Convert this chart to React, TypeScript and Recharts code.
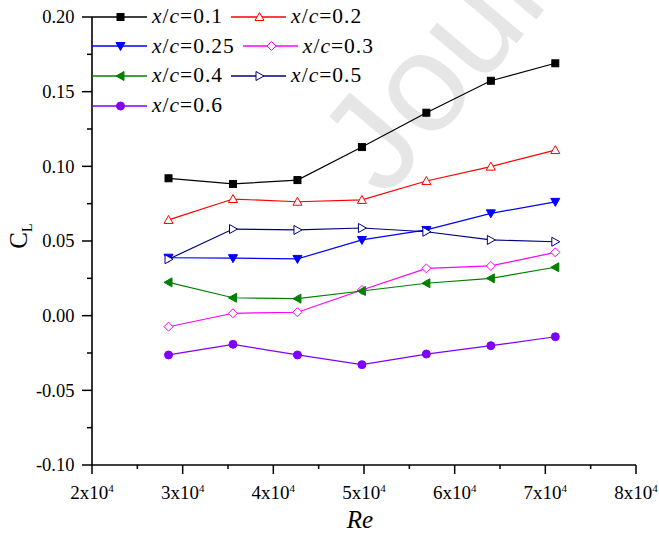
import React from "react"
import { LineChart, Line, XAxis, YAxis } from "recharts"

// Reynolds numbers (x positions)
const RE = [28440, 35550, 42660, 49770, 56880, 63990, 71100]

// lift coefficient per chordwise position
const CL_010 = [0.092, 0.0882, 0.0908, 0.1129, 0.1359, 0.1573, 0.169]
const CL_020 = [0.0641, 0.0781, 0.0763, 0.0775, 0.0902, 0.0998, 0.1109]
const CL_025 = [0.0388, 0.0385, 0.038, 0.0507, 0.0574, 0.0685, 0.0762]
const CL_030 = [-0.0074, 0.0016, 0.0023, 0.0172, 0.0317, 0.0333, 0.0424]
const CL_040 = [0.0223, 0.012, 0.0114, 0.0165, 0.0217, 0.025, 0.0324]
const CL_050 = [0.0378, 0.058, 0.0574, 0.0587, 0.0562, 0.0507, 0.0495]
const CL_060 = [-0.0263, -0.0192, -0.0263, -0.0328, -0.0257, -0.0201, -0.0141]

const X_MAJOR = [20000, 30000, 40000, 50000, 60000, 70000, 80000]
const X_MINOR = [25000, 35000, 45000, 55000, 65000, 75000]
const Y_MAJOR = [-0.1, -0.05, 0, 0.05, 0.1, 0.15, 0.2]
const Y_MINOR = [-0.075, -0.025, 0.025, 0.075, 0.125, 0.175]

type Shape = "square" | "up" | "down" | "left" | "right" | "diamond" | "circle"

interface SeriesDef {
  key: string
  label: string
  values: number[]
  color: string
  shape: Shape
  filled: boolean
}

const SERIES: SeriesDef[] = [
  { key: "s010", label: "0.1", values: CL_010, color: "#000000", shape: "square", filled: true },
  { key: "s020", label: "0.2", values: CL_020, color: "#ff0000", shape: "up", filled: false },
  { key: "s025", label: "0.25", values: CL_025, color: "#0000ff", shape: "down", filled: true },
  { key: "s030", label: "0.3", values: CL_030, color: "#ff00ff", shape: "diamond", filled: false },
  { key: "s040", label: "0.4", values: CL_040, color: "#008000", shape: "left", filled: true },
  { key: "s050", label: "0.5", values: CL_050, color: "#000080", shape: "right", filled: false },
  { key: "s060", label: "0.6", values: CL_060, color: "#8000ff", shape: "circle", filled: true },
]

const data = RE.map((re, i) => {
  const row: Record<string, number> = { re }
  SERIES.forEach((s) => {
    row[s.key] = s.values[i]
  })
  return row
})

const FONT = "Liberation Serif"

const Marker = ({
  cx,
  cy,
  shape,
  color,
  filled,
}: {
  cx: number
  cy: number
  shape: Shape
  color: string
  filled: boolean
}) => {
  const fill = filled ? color : "#ffffff"
  const a = 4.5
  const b = 3.5
  const common = { fill, stroke: color, strokeWidth: 1 }
  switch (shape) {
    case "square":
      return <rect x={cx - 3.5} y={cy - 3.5} width={7} height={7} {...common} />
    case "up":
      return <polygon points={`${cx},${cy - a} ${cx - a},${cy + b} ${cx + a},${cy + b}`} {...common} />
    case "down":
      return <polygon points={`${cx},${cy + a} ${cx - a},${cy - b} ${cx + a},${cy - b}`} {...common} />
    case "left":
      return <polygon points={`${cx - a},${cy} ${cx + b},${cy - a} ${cx + b},${cy + a}`} {...common} />
    case "right":
      return <polygon points={`${cx + a},${cy} ${cx - b},${cy - a} ${cx - b},${cy + a}`} {...common} />
    case "diamond":
      return <polygon points={`${cx},${cy - a} ${cx + a},${cy} ${cx},${cy + a} ${cx - a},${cy}`} {...common} />
    default:
      return <circle cx={cx} cy={cy} r={4} {...common} />
  }
}

const near = (list: number[], v: number) => list.some((m) => Math.abs(m - v) < 1e-9)

const XTick = (props: any) => {
  const { x, y, payload } = props
  const major = near(X_MAJOR, payload.value)
  return (
    <g>
      <line x1={x} x2={x} y1={y} y2={y + (major ? 9 : 4)} stroke="#000" strokeWidth={1.5} />
      {major && (
        <text x={x} y={y + 34} textAnchor="middle" fontFamily={FONT} fontSize={19} fill="#000">
          {payload.value / 10000}x10
          <tspan fontSize={11} dy={-7}>4</tspan>
        </text>
      )}
    </g>
  )
}

const YTick = (props: any) => {
  const { x, y, payload } = props
  const major = near(Y_MAJOR, payload.value)
  return (
    <g>
      <line x1={x} x2={x - (major ? 10 : 5)} y1={y} y2={y} stroke="#000" strokeWidth={1.5} />
      {major && (
        <text x={x - 17.5} y={y} dy="0.35em" textAnchor="end" fontFamily={FONT} fontSize={18.5} fill="#000">
          {payload.value.toFixed(2)}
        </text>
      )}
    </g>
  )
}

const LEGEND_ROWS = [
  [SERIES[0], SERIES[1]],
  [SERIES[2], SERIES[3]],
  [SERIES[4], SERIES[5]],
  [SERIES[6]],
]

const LegendBox = () => (
  <div
    style={{
      position: "absolute",
      left: 92,
      top: 2,
      fontFamily: FONT,
      fontSize: 21.5,
      letterSpacing: 1,
      color: "#000",
    }}
  >
    {LEGEND_ROWS.map((row, r) => (
      <div key={r} style={{ display: "flex", alignItems: "center", height: 29.6, whiteSpace: "nowrap" }}>
        {row.map((s) => (
          <div key={s.key} style={{ display: "flex", alignItems: "center", marginRight: 8 }}>
            <svg width={55} height={20} style={{ display: "block" }}>
              <line x1={0} x2={55} y1={10} y2={10} stroke={s.color} strokeWidth={1.3} />
              <Marker cx={28.5} cy={10} shape={s.shape} color={s.color} filled={s.filled} />
            </svg>
            <span style={{ marginLeft: 5, lineHeight: "29.6px" }}>
              <i>x</i>/<i>c</i>={s.label}
            </span>
          </div>
        ))}
      </div>
    ))}
  </div>
)

export default function App() {
  return (
    <div style={{ position: "absolute", left: 0, top: 0, width: 659, height: 533, background: "#fff" }}>
      <svg width={659} height={533} style={{ position: "absolute", left: 0, top: 0 }}>
        <text
          x={385}
          y={200}
          transform="rotate(-50 385 200)"
          fontFamily="Liberation Sans"
          fontSize={140}
          fill="#e6e6e6"
        >
          Jour
        </text>
      </svg>
      <div style={{ position: "absolute", left: 0, top: 0 }}>
        <LineChart width={659} height={533} data={data} margin={{ top: 17, right: 23, bottom: 0, left: 0 }}>
          <XAxis
            dataKey="re"
            type="number"
            domain={[20000, 80000]}
            ticks={[...X_MAJOR, ...X_MINOR].sort((a, b) => a - b)}
            interval={0}
            height={68}
            tickSize={0}
            tickMargin={0}
            tickLine={false}
            tick={<XTick />}
            axisLine={{ stroke: "#000", strokeWidth: 1.6 }}
            label={{
              content: () => (
                <text x={360} y={528} textAnchor="middle" fontFamily={FONT} fontSize={25} fontStyle="italic" fill="#000">
                  Re
                </text>
              ),
            }}
          />
          <YAxis
            type="number"
            domain={[-0.1, 0.2]}
            ticks={[...Y_MAJOR, ...Y_MINOR].sort((a, b) => a - b)}
            interval={0}
            width={92}
            tickSize={0}
            tickMargin={0}
            tickLine={false}
            tick={<YTick />}
            axisLine={{ stroke: "#000", strokeWidth: 1.6 }}
            label={{
              content: () => (
                <text
                  x={27}
                  y={236}
                  transform="rotate(-90 27 236)"
                  textAnchor="middle"
                  fontFamily={FONT}
                  fontSize={25}
                  fill="#000"
                >
                  C
                  <tspan fontSize={14} dy={5}>L</tspan>
                </text>
              ),
            }}
          />
          {SERIES.map((s) => (
            <Line
              key={s.key}
              type="linear"
              dataKey={s.key}
              stroke={s.color}
              strokeWidth={1.2}
              isAnimationActive={false}
              activeDot={false}
              dot={(p: any) => (
                <Marker key={`${s.key}-${p.index}`} cx={p.cx} cy={p.cy} shape={s.shape} color={s.color} filled={s.filled} />
              )}
            />
          ))}
        </LineChart>
      </div>
      <LegendBox />
    </div>
  )
}
